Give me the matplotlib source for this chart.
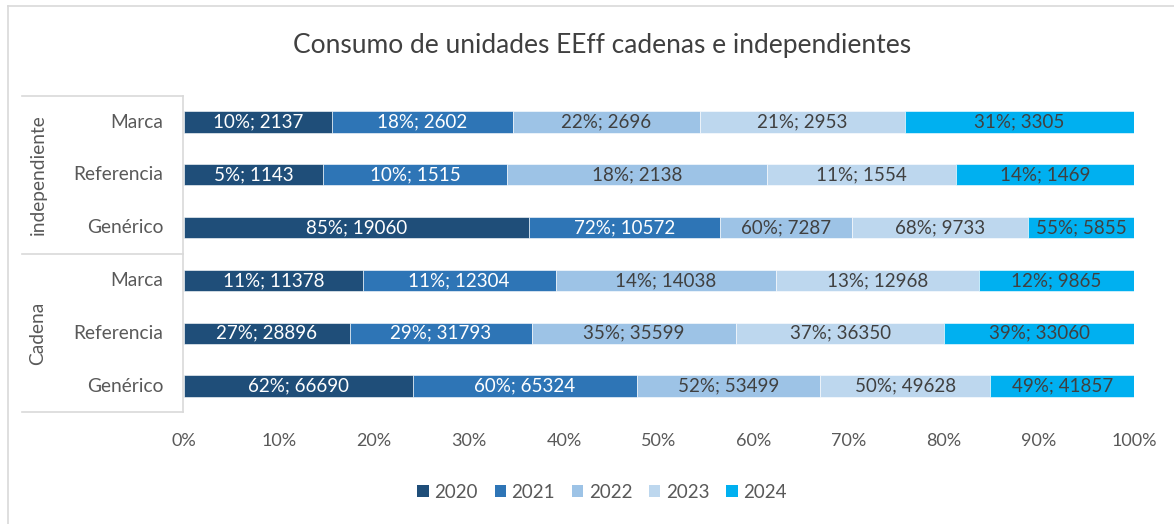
import matplotlib.pyplot as plt
from matplotlib.lines import Line2D
from matplotlib.patches import Patch
import numpy as np

plt.rcParams["font.family"] = ["Lato", "DejaVu Sans"]

# rows from top to bottom
groups = ["independiente", "Cadena"]
categories = ["Marca", "Referencia", "Genérico", "Marca", "Referencia", "Genérico"]
years = ["2020", "2021", "2022", "2023", "2024"]

units = {
    "2020": [2137, 1143, 19060, 11378, 28896, 66690],
    "2021": [2602, 1515, 10572, 12304, 31793, 65324],
    "2022": [2696, 2138, 7287, 14038, 35599, 53499],
    "2023": [2953, 1554, 9733, 12968, 36350, 49628],
    "2024": [3305, 1469, 5855, 9865, 33060, 41857],
}
shares = {
    "2020": [10, 5, 85, 11, 27, 62],
    "2021": [18, 10, 72, 11, 29, 60],
    "2022": [22, 18, 60, 14, 35, 52],
    "2023": [21, 11, 68, 13, 37, 50],
    "2024": [31, 14, 55, 12, 39, 49],
}

colors = ["#1F4E79", "#2E75B6", "#9DC3E6", "#BDD7EE", "#00B0F0"]
label_colors = ["white", "white", "#404040", "#404040", "#404040"]

W, H = 1174, 524
fig = plt.figure(figsize=(W / 100, H / 100), dpi=100)
ax = fig.add_axes([184 / W, 1 - 412.4 / H, 950 / W, (412.4 - 95.6) / H])

totals = np.sum([units[y] for y in years], axis=0)
ypos = np.arange(len(categories))
left = np.zeros(len(categories))
for yr, col, lc in zip(years, colors, label_colors):
    w = np.array(units[yr]) / totals
    ax.barh(ypos, w, left=left, height=0.4, color=col, edgecolor="white",
            linewidth=0.4, label=yr)
    for i in range(len(categories)):
        ax.text(left[i] + w[i] / 2, ypos[i], f"{shares[yr][i]}%; {units[yr][i]}",
                ha="center", va="center", color=lc, fontsize=13.5)
    left += w

ax.set_xlim(0, 1)
ax.set_ylim(len(categories) - 0.5, -0.5)
ax.set_xticks(np.linspace(0, 1, 11))
ax.set_xticklabels([f"{int(t)}%" for t in np.linspace(0, 100, 11)])
ax.tick_params(axis="x", length=0, labelsize=13, labelcolor="#595959", pad=15)
ax.set_yticks([])
for s in ax.spines.values():
    s.set_visible(False)

# category labels and group brackets
line_col = "#D9D9D9"
for i, cat in enumerate(categories):
    y = 1 - (122 + i * 52.8) / H
    fig.text(163 / W, y, cat, ha="right", va="center", fontsize=13.8, color="#595959")
fig.text(38 / W, 1 - 175 / H, groups[0], rotation=90, ha="center", va="center",
         fontsize=13.8, color="#595959")
fig.text(38 / W, 1 - 333 / H, groups[1], rotation=90, ha="center", va="center",
         fontsize=13.8, color="#595959")
for yy in [95.6, 254, 412.4]:
    fig.add_artist(Line2D([22 / W, 183 / W], [1 - yy / H] * 2, color=line_col, lw=1.2))
fig.add_artist(Line2D([183 / W] * 2, [1 - 95.6 / H, 1 - 412.4 / H], color=line_col, lw=1.2))

# chart border
fig.add_artist(Line2D([8 / W, 1], [1 - 6 / H] * 2, color=line_col, lw=1.2))
fig.add_artist(Line2D([8 / W] * 2, [1 - 6 / H, 0], color=line_col, lw=1.2))

fig.text(602 / W, 1 - 45 / H, "Consumo de unidades EEff cadenas e independientes",
         ha="center", va="center", fontsize=19, color="#404040")

handles = [Patch(facecolor=c, edgecolor="none") for c in colors]
fig.legend(handles, years, loc="center", bbox_to_anchor=(602 / W, 1 - 492 / H),
           ncol=5, frameon=False, fontsize=13.5, labelcolor="#595959",
           handlelength=0.6, handleheight=0.6, handletextpad=0.3, columnspacing=0.9)

fig.savefig("out.png", dpi=100)
